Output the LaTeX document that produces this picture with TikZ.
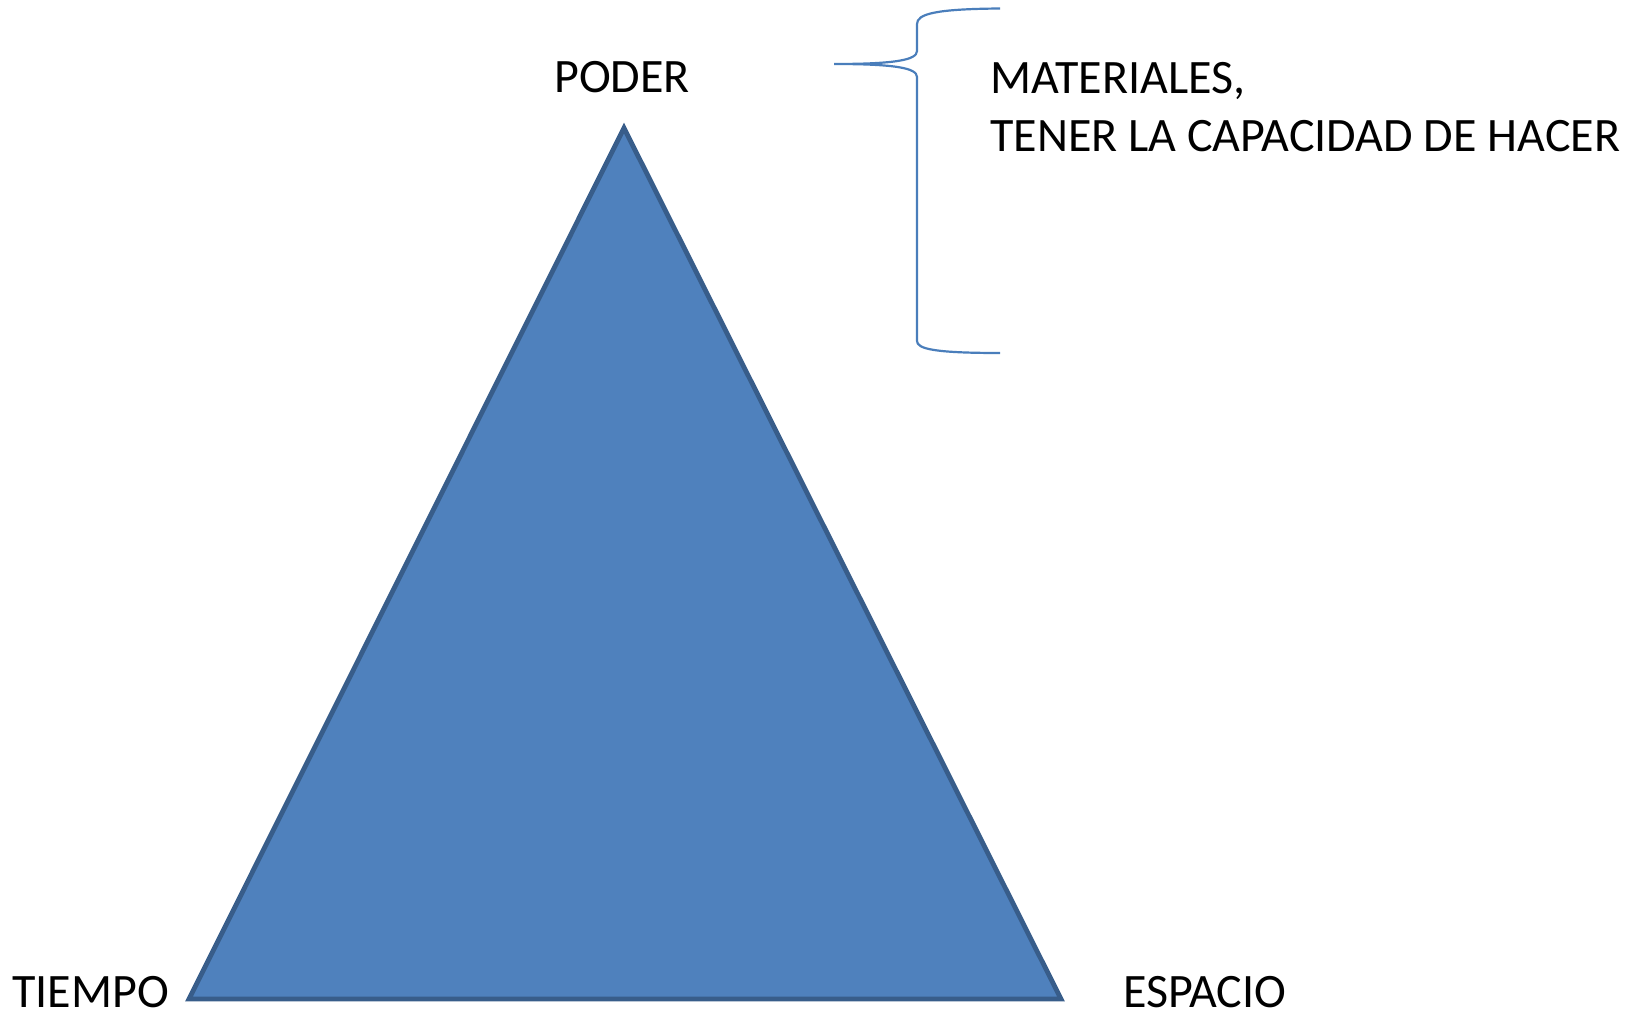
\documentclass[tikz,border=0pt]{standalone}
\usepackage{fontspec}
\setmainfont{Carlito}
\definecolor{triFill}{HTML}{4F81BD}
\definecolor{triLine}{HTML}{385D8A}
\definecolor{braceCol}{HTML}{4A7EBB}
\begin{document}
\begin{tikzpicture}[x=1pt,y=-1pt,
  lbl/.style={font=\fontsize{48}{58}\selectfont, text=black, inner sep=0pt},
  bracepath/.style={draw=braceCol, line width=2.2pt}]
\useasboundingbox (0,0) rectangle (1642,1014);
\coordinate (apex) at (624,128);
\coordinate (bl) at (189,999);
\coordinate (br) at (1061,999);
\fill[triFill, draw=triLine, line width=4.8pt, line join=miter] (apex) -- (br) -- (bl) -- cycle;
\node[lbl, anchor=base] (poder) at (622,93) {PODER};
\node[lbl, anchor=base east] (tiempo) at (169,1007) {TIEMPO};
\node[lbl, anchor=base west] (espacio) at (1123,1007) {ESPACIO};
\node[lbl, anchor=north west, align=left] (mat) at (990,62) {MATERIALES,\\TENER LA CAPACIDAD DE HACER};
\coordinate (btop) at (1000,8.5);
\coordinate (btip) at (834,64);
\coordinate (bbot) at (1000,353);
\draw[bracepath] (btop) .. controls (935,9) and (917,14) .. (917,24)
  -- (917,51) .. controls (917,60) and (895,64) .. (btip)
  .. controls (895,64) and (917,68) .. (917,77)
  -- (917,341) .. controls (917,349) and (935,353) .. (bbot);
\end{tikzpicture}
\end{document}
